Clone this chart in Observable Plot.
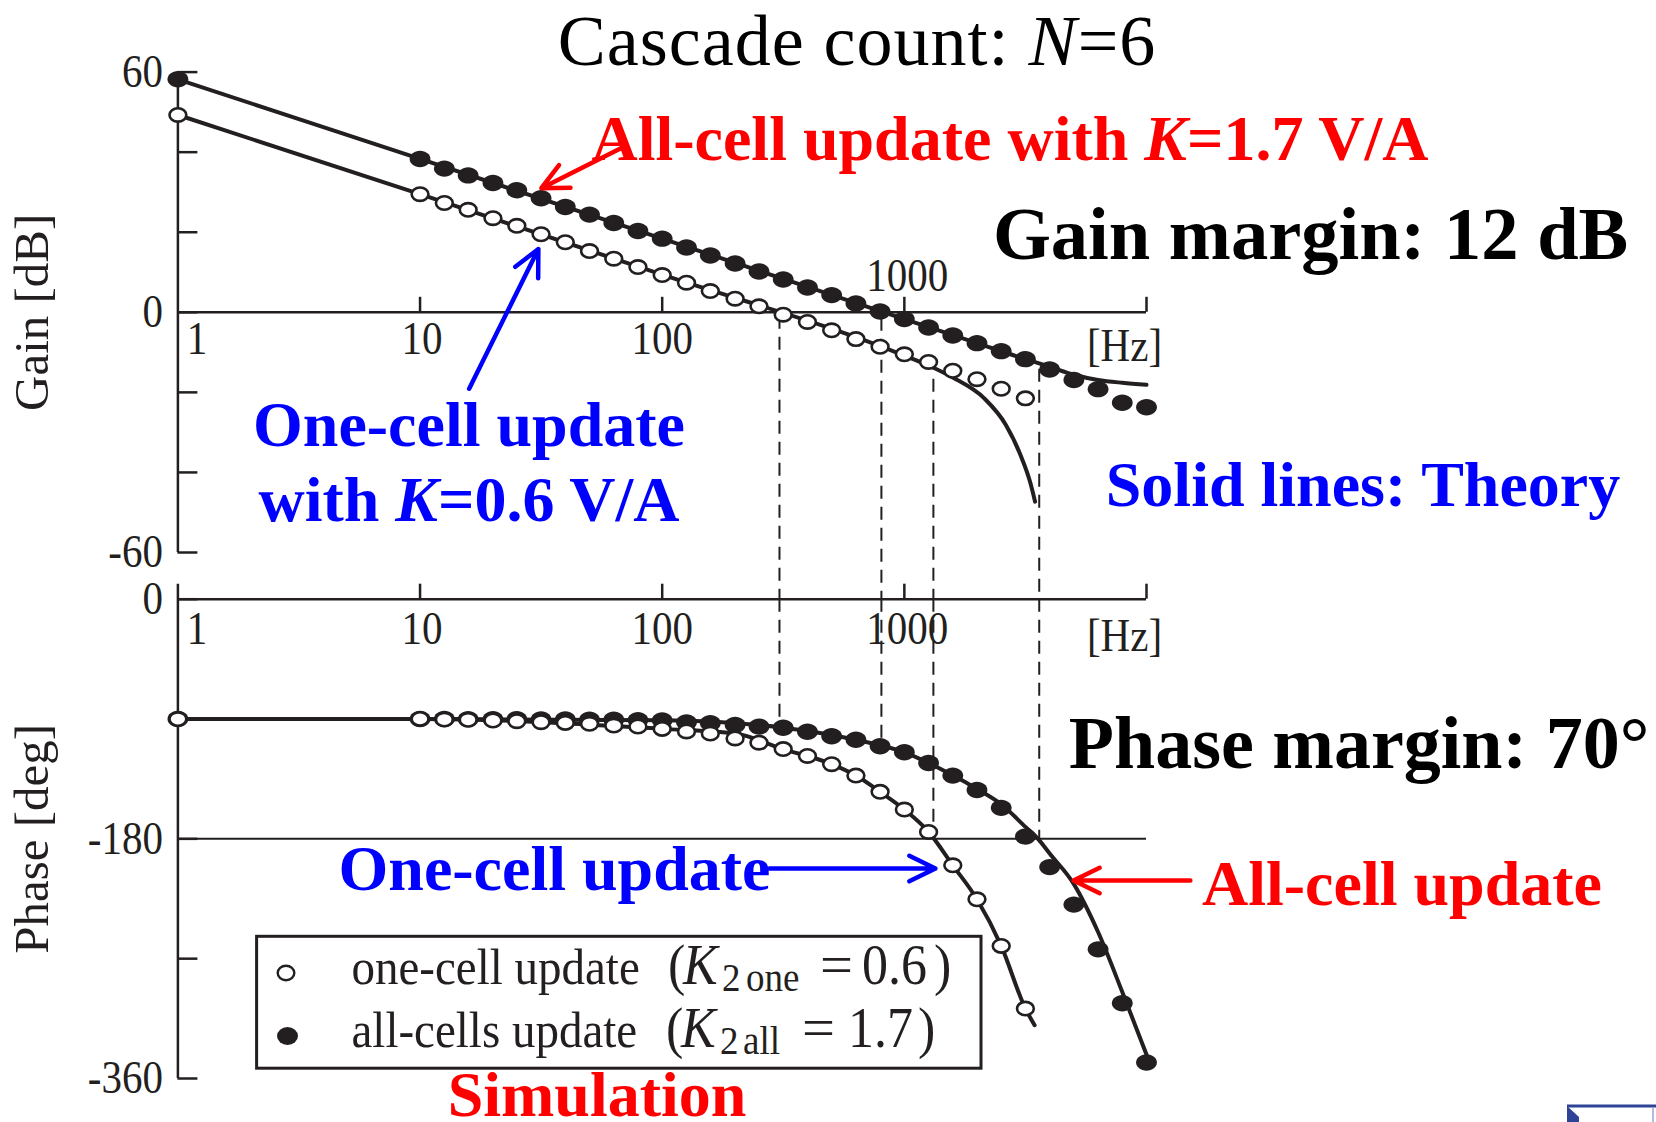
<!DOCTYPE html>
<html>
<head>
<meta charset="utf-8">
<script src="https://cdn.jsdelivr.net/npm/d3@7"></script>
<script src="https://cdn.jsdelivr.net/npm/@observablehq/plot@0.6"></script>
<style>
  html, body { margin: 0; padding: 0; background: #ffffff; }
  #chart { position: relative; width: 1656px; height: 1122px; overflow: hidden; background: #ffffff; }
  #chart > svg { position: absolute; left: 0; top: 0; }
</style>
</head>
<body>
<div id="chart"></div>
<script>
const INK = "#231f20", RED = "#ff0000", BLUE = "#0000ff";
const SERIF = "'Liberation Serif', 'Times New Roman', Times, serif";
const W = 1656, H = 1122;

// ---- data ----
// simulation frequencies [Hz]
const simFreq = [1, 10, 12.6, 15.8, 20, 25.1, 31.6, 39.8, 50.1, 63.1, 79.4, 100, 126, 158, 200, 251, 316, 398, 501, 631, 794, 1000, 1259, 1585, 1995, 2512, 3162, 3981, 5012, 6310, 7943, 10000];
// simulation gain [dB]
const gainAllSim = [58.2, 38.3, 35.9, 34.2, 32.3, 30.5, 28.5, 26.3, 24.4, 22.3, 20.3, 18.4, 16.2, 14.2, 12.2, 10.2, 8.2, 6.2, 4.3, 2.2, 0.2, -1.7, -3.8, -5.8, -7.7, -9.7, -11.7, -14.3, -16.9, -19.2, -22.6, -23.7];
const gainOneSim = [49.3, 29.5, 27.3, 25.6, 23.5, 21.6, 19.5, 17.5, 15.3, 13.4, 11.3, 9.3, 7.4, 5.3, 3.4, 1.5, -0.6, -2.4, -4.5, -6.7, -8.6, -10.5, -12.4, -14.6, -16.7, -19.1, -21.5];
// simulation phase [deg]
const phaseAllSim = [-90, -90, -90, -90.1, -90.1, -90.2, -90.3, -90.4, -90.5, -90.6, -90.8, -91, -92.5, -93.2, -94.5, -95.7, -96.5, -99.6, -102.9, -105.6, -110.4, -115, -123, -132.5, -143.3, -156.7, -178.3, -201.2, -229.4, -263, -303.5, -348];
const phaseOneSim = [-90, -89.9, -90.4, -90.6, -91.1, -91.6, -92.4, -92.9, -93.6, -94.9, -95.6, -97.4, -99.3, -100.9, -104.6, -107.8, -112.6, -117.7, -123.9, -132.5, -144.7, -158, -174.8, -199.9, -225.4, -260.4, -307.5];
// theory curves
const theoryAllGainFreq = [1, 10, 100, 1000, 1995, 3162, 3981, 5012, 6310, 7943, 10000];
const theoryAllGain = [58.2, 38.3, 18.4, -1.7, -7.7, -11.7, -13.6, -15.6, -16.9, -17.6, -18.1];
const theoryOneGainFreq = [1, 10, 100, 1000, 1259, 1585, 2138, 2630, 3020, 3311, 3467];
const theoryOneGain = [49.3, 29.5, 9.4, -10.8, -13.3, -16.3, -21.5, -28.2, -35.7, -42.5, -47.3];
const theoryAllPhaseFreq = [1, 10, 100, 316, 631, 1000, 1585, 1995, 2512, 3162, 3565, 3981, 5012, 6310, 7943, 10000];
const theoryAllPhase = [-90, -90, -91, -96.5, -105.6, -115, -132.3, -142.5, -154, -171, -180, -191, -214, -250, -295, -342];
const theoryOnePhaseFreq = [1, 10, 100, 200, 316, 501, 631, 794, 1000, 1259, 1585, 1995, 2512, 3162, 3451];
const theoryOnePhase = [-90, -90, -97.4, -100.9, -112.6, -123.9, -132.5, -144.7, -158, -174.8, -199.9, -225.4, -260.4, -307.5, -320];
// dashed marker lines
const markerFreq = [305, 804, 1318, 3606];
const markerGainTop = [-1, -1.5, -16.75, -14.2];
const markerPhaseEnd = [-89.5, -107, -180, -180];
// ticks and labels
const freqTicks = [10, 100, 1000, 10000];
const freqLabels = [1, 10, 100, 1000];
const freqLabelText = ["1", "10", "100", "1000"];
const gainTicks = [60, 40, 20, 0, -20, -40, -60];
const gainLabels = [60, 0, -60];
const phaseTicks = [0, -90, -180, -270, -360];
const phaseLabels = [0, -180, -360];
// annotation arrows (Hz, dB / deg)
const gainArrowRed = [{x1: 69.8, y1: 41.4, x2: 31.7, y2: 31.0}];
const gainArrowBlue = [{x1: 15.95, y1: -19.1, x2: 30.8, y2: 15.8}];
const phaseArrowBlue = [{x1: 277, y1: -202.3, x2: 1344, y2: -202.3}];
const phaseArrowRed = [{x1: 15170, y1: -211.3, x2: 4995, y2: -211.3}];

// ---- helpers ----
const zip = (xs, ys) => ys.map((v, i) => ({f: xs[i], v}));
function ellipseSymbol(rx, ry) {
  const k = 0.5522847498;
  return {draw(ctx) {
    ctx.moveTo(rx, 0);
    ctx.bezierCurveTo(rx, ry * k, rx * k, ry, 0, ry);
    ctx.bezierCurveTo(-rx * k, ry, -rx, ry * k, -rx, 0);
    ctx.bezierCurveTo(-rx, -ry * k, -rx * k, -ry, 0, -ry);
    ctx.bezierCurveTo(rx * k, -ry, rx, -ry * k, rx, 0);
    ctx.closePath();
  }};
}
const FILLED = ellipseSymbol(10.4, 8.2);
const OPEN = ellipseSymbol(8.4, 6.7);
const TICK_FONT = 41;

function tickLabels(offs, y) {
  return freqLabels.map((v, i) => Plot.text([freqLabelText[i]], {
    x: () => v, y: () => y, text: d => d, dx: offs[i][0], dy: offs[i][1], fontSize: TICK_FONT, fill: INK
  }));
}
function arrow(data, color) {
  return Plot.arrow(data, {x1: "x1", y1: "y1", x2: "x2", y2: "y2", stroke: color, strokeWidth: 4.5, headLength: 9.7, headAngle: 52});
}
const common = {
  width: W, height: H, marginLeft: 177.4, marginRight: 510,
  x: {type: "log", domain: [1, 10000], axis: null},
  style: {background: "transparent", fontFamily: SERIF, color: INK}
};
const idx = markerFreq.map((d, i) => i);

// ---- gain plot ----
const gainPlot = Plot.plot({
  ...common,
  marginTop: 71.6, marginBottom: 570,
  y: {domain: [-60, 60], axis: null},
  marks: [
    Plot.ruleX(idx, {x: i => markerFreq[i], y1: i => markerGainTop[i], y2: -60, insetBottom: -46.7, stroke: INK, strokeWidth: 2, strokeDasharray: "13,8"}),
    Plot.ruleY([0], {stroke: INK, strokeWidth: 2.5}),
    Plot.ruleX([1], {stroke: INK, strokeWidth: 2.5}),
    Plot.ruleY(gainTicks, {x1: 1, x2: 1, insetRight: -20, stroke: INK, strokeWidth: 2.5}),
    Plot.ruleX(freqTicks, {y1: 0, y2: 0, insetBottom: 15, stroke: INK, strokeWidth: 2.5}),
    Plot.text(gainLabels, {x: 1, y: d => d, text: d => String(d), textAnchor: "end", dx: -15, fontSize: TICK_FONT, fill: INK}),
    ...tickLabels([[19, 27], [2, 27], [0, 27], [3, -36]], 0),
    Plot.text(["[Hz]"], {x: 10000, y: 0, text: d => d, dx: -22, dy: 34, fontSize: TICK_FONT, fill: INK}),
    Plot.text(["Gain [dB]"], {frameAnchor: "left", textAnchor: "middle", text: d => d, rotate: -90, dx: -146, fontSize: 49, fill: INK}),
    Plot.line(zip(theoryAllGainFreq, theoryAllGain), {x: "f", y: "v", stroke: INK, strokeWidth: 4, curve: "monotone-x"}),
    Plot.line(zip(theoryOneGainFreq, theoryOneGain), {x: "f", y: "v", stroke: INK, strokeWidth: 4, curve: "monotone-x", strokeLinecap: "round"}),
    Plot.dot(zip(simFreq, gainAllSim), {x: "f", y: "v", symbol: FILLED, fill: INK, stroke: "none"}),
    Plot.dot(zip(simFreq, gainOneSim), {x: "f", y: "v", symbol: OPEN, fill: "white", stroke: INK, strokeWidth: 2.6}),
    arrow(gainArrowRed, RED),
    arrow(gainArrowBlue, BLUE)
  ]
});

// ---- phase plot ----
const phasePlot = Plot.plot({
  ...common,
  marginTop: 598.7, marginBottom: 44,
  y: {domain: [-360, 0], axis: null},
  marks: [
    Plot.ruleX(idx, {x: i => markerFreq[i], y1: 0, y2: i => markerPhaseEnd[i], stroke: INK, strokeWidth: 2, strokeDasharray: "13,8"}),
    Plot.ruleY([0], {stroke: INK, strokeWidth: 2.5}),
    Plot.ruleY([-180], {stroke: INK, strokeWidth: 2}),
    Plot.ruleX([1], {y1: 0, y2: -360, insetTop: -15, stroke: INK, strokeWidth: 2.5}),
    Plot.ruleY(phaseTicks, {x1: 1, x2: 1, insetRight: -20, stroke: INK, strokeWidth: 2.5}),
    Plot.ruleX(freqTicks, {y1: 0, y2: 0, insetBottom: 15, stroke: INK, strokeWidth: 2.5}),
    Plot.text(phaseLabels, {x: 1, y: d => d, text: d => String(d), textAnchor: "end", dx: -15, fontSize: TICK_FONT, fill: INK}),
    ...tickLabels([[19, 30], [2, 30], [0, 30], [3, 30]], 0),
    Plot.text(["[Hz]"], {x: 10000, y: 0, text: d => d, dx: -22, dy: 37, fontSize: TICK_FONT, fill: INK}),
    Plot.text(["Phase [deg]"], {frameAnchor: "left", textAnchor: "middle", text: d => d, rotate: -90, dx: -146, fontSize: 49, fill: INK}),
    Plot.line(zip(theoryAllPhaseFreq, theoryAllPhase), {x: "f", y: "v", stroke: INK, strokeWidth: 4, curve: "monotone-x"}),
    Plot.line(zip(theoryOnePhaseFreq, theoryOnePhase), {x: "f", y: "v", stroke: INK, strokeWidth: 4, curve: "monotone-x"}),
    Plot.dot(zip(simFreq, phaseAllSim), {x: "f", y: "v", symbol: FILLED, fill: INK, stroke: "none"}),
    Plot.dot(zip(simFreq, phaseOneSim), {x: "f", y: "v", symbol: OPEN, fill: "white", stroke: INK, strokeWidth: 2.6}),
    arrow(phaseArrowBlue, BLUE),
    arrow(phaseArrowRed, RED)
  ]
});

// tall, narrow figure lettering (the original figure is stretched vertically)
function stretch(svg, sy) {
  svg.querySelectorAll("text").forEach(t => {
    const tr = t.getAttribute("transform");
    if (tr && tr.includes("rotate")) return;
    if (tr) t.setAttribute("transform", tr + ` scale(1,${sy})`);
    else {
      const x = parseFloat(t.getAttribute("x")) || 0, y = parseFloat(t.getAttribute("y")) || 0;
      t.setAttribute("transform", `translate(${x},${y}) scale(1,${sy}) translate(${-x},${-y})`);
    }
  });
}
stretch(gainPlot, 1.13);
stretch(phasePlot, 1.13);

// ---- annotation overlay ----
const ov = d3.create("svg").attr("width", W).attr("height", H).attr("font-family", SERIF);
function label(x, y, parts, o) {
  const t = ov.append("text").attr("x", x).attr("y", y).attr("text-anchor", o.anchor || "middle")
    .attr("font-size", o.size).attr("font-weight", o.weight || "bold").attr("fill", o.fill || "#000");
  if (o.ls) t.attr("letter-spacing", o.ls);
  for (const p of parts) {
    const s = t.append("tspan").text(typeof p === "string" ? p : p.t);
    if (p.i) s.attr("font-style", "italic");
  }
}
label(857, 64.5, ["Cascade count: ", {t: "N", i: true}, "=6"], {size: 72, weight: "normal", ls: 1});
label(1010, 159.5, ["All-cell update with ", {t: "K", i: true}, "=1.7 V/A"], {size: 64, fill: RED});
label(1310.6, 258.7, ["Gain margin: 12 dB"], {size: 74.5});
label(469, 446, ["One-cell update"], {size: 64, fill: BLUE});
label(469, 521, ["with ", {t: "K", i: true}, "=0.6 V/A"], {size: 64, fill: BLUE});
label(1363, 506, ["Solid lines: Theory"], {size: 64, fill: BLUE});
label(1359, 767.5, ["Phase margin: 70°"], {size: 74});
label(554.5, 890, ["One-cell update"], {size: 64, fill: BLUE});
label(1402, 905, ["All-cell update"], {size: 64, fill: RED});
label(597, 1116, ["Simulation"], {size: 64, fill: RED});

// legend box
const lg = ov.append("g");
lg.append("rect").attr("x", 256.6).attr("y", 936.3).attr("width", 724.4).attr("height", 131.9)
  .attr("fill", "#fff").attr("stroke", INK).attr("stroke-width", 3);
lg.append("ellipse").attr("cx", 286).attr("cy", 973).attr("rx", 8.3).attr("ry", 7.2)
  .attr("fill", "#fff").attr("stroke", INK).attr("stroke-width", 2.4);
lg.append("ellipse").attr("cx", 287.5).attr("cy", 1036).attr("rx", 10.5).attr("ry", 9).attr("fill", INK);
function legendRow(baseline, chunks) {
  const t = lg.append("text").attr("transform", `translate(0,${baseline}) scale(1,1.1)`)
    .attr("font-size", 47).attr("fill", INK);
  for (const c of chunks) {
    const s = t.append("tspan").attr("x", c.x).attr("y", c.sub ? 7 : 0).text(c.t);
    if (c.i) s.attr("font-style", "italic");
    if (c.m) s.attr("font-size", 52);
    if (c.sub) s.attr("font-size", 37);
    if (c.w) s.attr("textLength", c.w).attr("lengthAdjust", "spacingAndGlyphs");
  }
}
legendRow(983.5, [
  {t: "one-cell update", x: 351.5}, {t: "(", x: 668, m: true}, {t: "K", x: 683, i: true, m: true},
  {t: "2", x: 722, sub: true}, {t: "one", x: 746, sub: true}, {t: "=", x: 820, w: 33, m: true},
  {t: "0.6", x: 862, m: true}, {t: ")", x: 934, m: true}
]);
legendRow(1046.5, [
  {t: "all-cells update", x: 351.5}, {t: "(", x: 666, m: true}, {t: "K", x: 681, i: true, m: true},
  {t: "2", x: 720, sub: true}, {t: "all", x: 743, sub: true}, {t: "=", x: 802, w: 33, m: true},
  {t: "1.7", x: 848, m: true}, {t: ")", x: 918, m: true}
]);

// slide navigation fragment at bottom right
ov.append("line").attr("x1", 1567).attr("x2", 1656).attr("y1", 1106).attr("y2", 1106).attr("stroke", "#2d4496").attr("stroke-width", 3);
ov.append("polygon").attr("points", "1567,1106 1579,1117 1579,1122 1567,1122").attr("fill", "#2d4496");
ov.append("line").attr("x1", 1653).attr("x2", 1653).attr("y1", 1107).attr("y2", 1122).attr("stroke", "#9aa6d6").attr("stroke-width", 1.5);

const chart = document.getElementById("chart");
chart.append(gainPlot, phasePlot, ov.node());
</script>
</body>
</html>
